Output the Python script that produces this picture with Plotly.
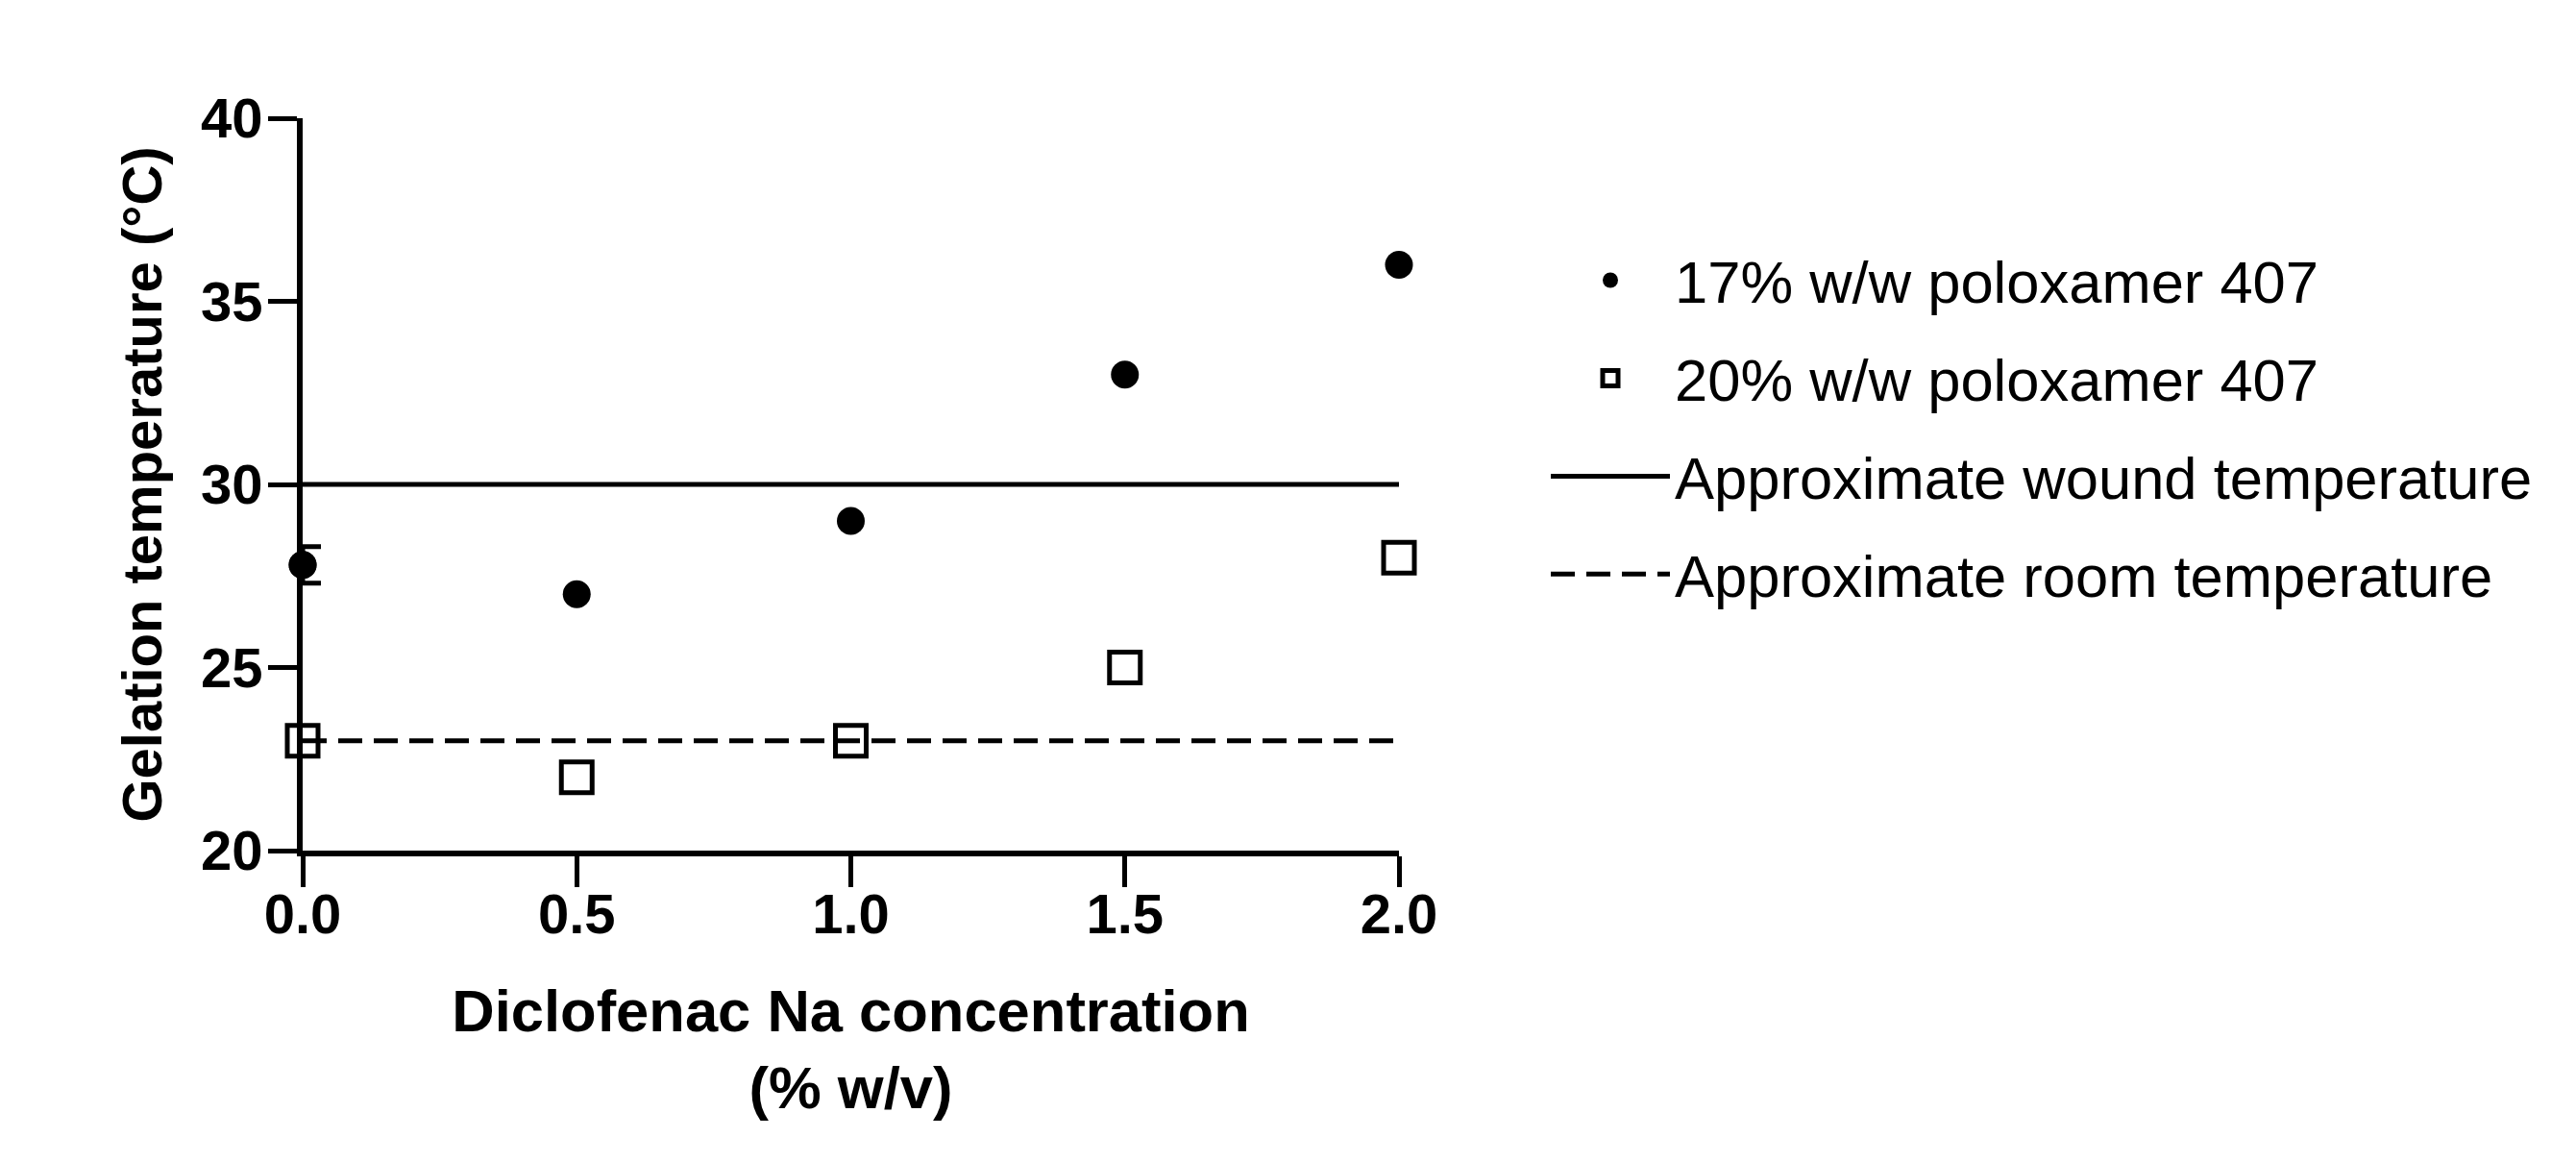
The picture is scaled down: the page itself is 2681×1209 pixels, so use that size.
import plotly.graph_objects as go

conc = [0.0, 0.5, 1.0, 1.5, 2.0]
p17 = [27.8, 27.0, 29.0, 33.0, 36.0]
p17_err_at_zero = 0.5
p20 = [23.0, 22.0, 23.0, 25.0, 28.0]
wound_temp = 30
room_temp = 23
x_ticks = [0.0, 0.5, 1.0, 1.5, 2.0]
x_ticklabels = ["0.0", "0.5", "1.0", "1.5", "2.0"]
y_ticks = [20, 25, 30, 35, 40]

W, H = 2681, 1209
L, R, T, B = 307, 1448, 115, 877

FONT = "Liberation Sans, Arial, sans-serif"

fig = go.Figure()

fig.add_trace(go.Scatter(
    x=[conc[0], conc[-1]], y=[wound_temp, wound_temp], mode="lines",
    line=dict(color="black", width=5),
    name="Approximate wound temperature", legendgroup="c", legendrank=3))
fig.add_trace(go.Scatter(
    x=[conc[0], conc[-1]], y=[room_temp, room_temp], mode="lines",
    line=dict(color="black", width=5, dash="25px,12px"),
    name="Approximate room temperature", legendgroup="d", legendrank=4))
fig.add_trace(go.Scatter(
    x=conc, y=p17, mode="markers",
    marker=dict(symbol="circle", size=29, color="black"),
    cliponaxis=False,
    name="17% w/w poloxamer 407", legendgroup="a", legendrank=1))
fig.add_trace(go.Scatter(
    x=[conc[0]], y=[p17[0]], mode="markers",
    marker=dict(symbol="circle", size=29, color="black"),
    error_y=dict(type="data", array=[p17_err_at_zero], visible=True,
                 color="black", thickness=5, width=19),
    cliponaxis=False, showlegend=False, legendgroup="a", hoverinfo="skip"))
fig.add_trace(go.Scatter(
    x=conc, y=p20, mode="markers",
    marker=dict(symbol="square-open", size=32, color="black", line=dict(width=5)),
    cliponaxis=False,
    name="20% w/w poloxamer 407", legendgroup="b", legendrank=2))

fig.update_layout(
    width=W, height=H,
    margin=dict(l=L, r=W - R, t=T, b=H - B, pad=0, autoexpand=False),
    paper_bgcolor="white", plot_bgcolor="white",
    font=dict(family=FONT, color="black"),
    showlegend=True,
    legend=dict(
        x=(1601 - L) / (R - L), xanchor="left",
        y=1 - (237 - T) / (B - T), yanchor="top",
        traceorder="grouped", tracegroupgap=19,
        font=dict(size=61.5, family=FONT, color="black"),
        itemwidth=124, bgcolor="rgba(0,0,0,0)",
    ),
    xaxis=dict(
        range=[0, 2], tickvals=x_ticks, ticktext=x_ticklabels,
        showline=True, linecolor="black", linewidth=6,
        ticks="outside", ticklen=32, tickwidth=5, tickcolor="black",
        ticklabelstandoff=-22,
        showgrid=False, zeroline=False,
        tickfont=dict(size=58, family=FONT, weight="bold"),
        title=dict(text="Diclofenac Na concentration<br>(% w/v)",
                   font=dict(size=61.5, family=FONT, weight="bold"), standoff=50),
    ),
    yaxis=dict(
        range=[20, 40], tickvals=y_ticks,
        showline=True, linecolor="black", linewidth=6,
        ticks="outside", ticklen=30, tickwidth=5, tickcolor="black",
        ticklabelstandoff=-6,
        showgrid=False, zeroline=False,
        tickfont=dict(size=58, family=FONT, weight="bold"),
        title=dict(text="Gelation temperature (°C)",
                   font=dict(size=58, family=FONT, weight="bold"), standoff=24),
    ),
)

fig.write_html("out.html")
